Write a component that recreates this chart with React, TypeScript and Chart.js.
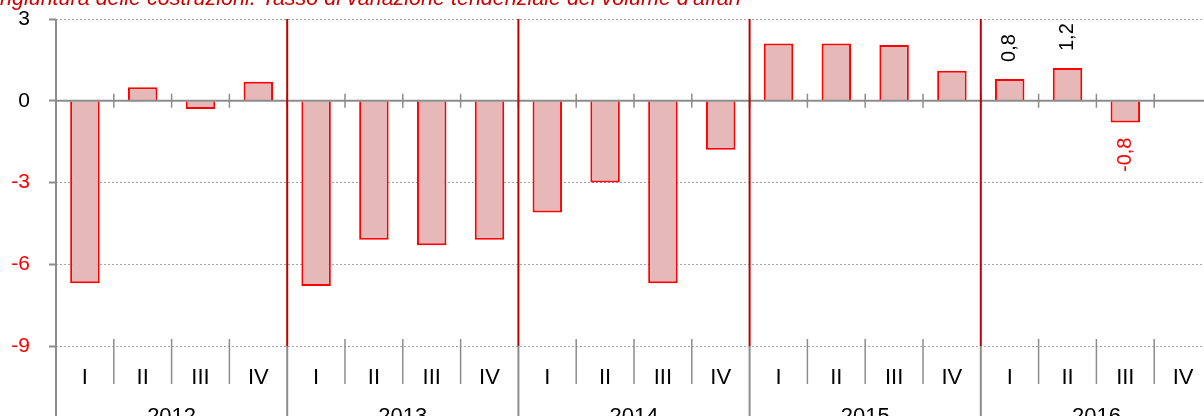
import React, { useEffect, useRef } from 'react';
import { Chart, registerables } from 'chart.js';

Chart.register(...registerables);

// ---- data ----
const quarters = ['I', 'II', 'III', 'IV', 'I', 'II', 'III', 'IV', 'I', 'II', 'III', 'IV', 'I', 'II', 'III', 'IV', 'I', 'II', 'III', 'IV'];
const years = ['2012', '2013', '2014', '2015', '2016'];
const values: (number | null)[] = [
  -6.7, 0.5, -0.3, 0.7,
  -6.8, -5.1, -5.3, -5.1,
  -4.1, -3.0, -6.7, -1.8,
  2.1, 2.1, 2.05, 1.1,
  0.8, 1.2, -0.8, null,
];
const valueLabels: (string | null)[] = [
  null, null, null, null,
  null, null, null, null,
  null, null, null, null,
  null, null, null, null,
  '0,8', '1,2', '-0,8', null,
];
const yMin = -9;
const yMax = 3;
const yStep = 3;
const titleText = "Congiuntura delle costruzioni. Tasso di variazione tendenziale del volume d'affari";
const titleHiddenPrefix = 'Co';
const quartersPerYear = 4;

// ---- style ----
const FONT = 'Arial, "Liberation Sans", sans-serif';
const W = 1230;
const H = 430;
const GRAY = '#8c8c8c';
const RED_LINE = '#C00000';
const Y_FONT = 21;
const X_FONT = 22;

const decorPlugin = {
  id: 'decor',
  afterDatasetsDraw(chart: any) {
    const { ctx, chartArea, scales } = chart;
    const xs = scales.x;
    const ys = scales.y;
    const n = quarters.length;
    const step = xs.getPixelForValue(1) - xs.getPixelForValue(0);
    const boundary = (i: number) => xs.getPixelForValue(i) - step / 2;
    const y0 = ys.getPixelForValue(0);
    const line = (x1: number, y1: number, x2: number, y2: number) => {
      ctx.beginPath();
      ctx.moveTo(x1, y1);
      ctx.lineTo(x2, y2);
      ctx.stroke();
    };
    ctx.save();
    ctx.strokeStyle = GRAY;
    // zero line
    ctx.lineWidth = 2;
    line(chartArea.left, y0, chartArea.right, y0);
    // zero-line ticks
    ctx.lineWidth = 1.5;
    for (let i = 1; i < n; i++) {
      const b = boundary(i);
      line(b, y0 - 7, b, y0 + 7);
    }
    // y axis line (extends down into the category area)
    ctx.lineWidth = 2;
    line(chartArea.left, chartArea.top, chartArea.left, chart.height);
    // category separators
    for (let i = 1; i < n; i++) {
      const b = boundary(i);
      if (i % quartersPerYear === 0) {
        ctx.strokeStyle = GRAY;
        ctx.lineWidth = 2;
        line(b, chartArea.bottom, b, chart.height);
        ctx.strokeStyle = RED_LINE;
        ctx.lineWidth = 2;
        line(b, chartArea.top, b, chartArea.bottom);
      } else {
        ctx.strokeStyle = GRAY;
        ctx.lineWidth = 1.5;
        line(b, chartArea.bottom - 7, b, chartArea.bottom + 38);
      }
    }
    // data labels
    const meta = chart.getDatasetMeta(0);
    ctx.font = `20px ${FONT}`;
    ctx.textBaseline = 'middle';
    valueLabels.forEach((lab, i) => {
      const v = values[i];
      if (!lab || v == null) return;
      const el = meta.data[i];
      if (!el) return;
      const { x, y } = el.getProps(['x', 'y'], true);
      ctx.save();
      if (v >= 0) {
        ctx.translate(x, y - 17);
        ctx.rotate(-Math.PI / 2);
        ctx.textAlign = 'left';
        ctx.fillStyle = '#000000';
      } else {
        ctx.translate(x, y + 15);
        ctx.rotate(-Math.PI / 2);
        ctx.textAlign = 'right';
        ctx.fillStyle = '#FF0000';
      }
      ctx.fillText(lab, 0, 0);
      ctx.restore();
    });
    // title (cropped at top/left as in the reference)
    ctx.font = `italic 21.5px ${FONT}`;
    ctx.fillStyle = '#D00000';
    ctx.textAlign = 'left';
    ctx.textBaseline = 'alphabetic';
    const off = ctx.measureText(titleHiddenPrefix).width;
    ctx.fillText(titleText, -off, 5);
    ctx.restore();
  },
};

export default function App() {
  const ref = useRef<HTMLCanvasElement | null>(null);
  useEffect(() => {
    if (!ref.current) return;
    const chart = new Chart(ref.current, {
      type: 'bar',
      data: {
        labels: quarters,
        datasets: [
          {
            data: values,
            backgroundColor: '#E6B9B8',
            borderColor: '#FF0000',
            borderWidth: 2,
            barPercentage: 0.51,
            categoryPercentage: 1.0,
            xAxisID: 'x',
            yAxisID: 'y',
          },
        ],
      },
      options: {
        responsive: false,
        devicePixelRatio: 1,
        animation: false,
        layout: { padding: { left: 0, right: W - 1212, top: 19, bottom: 0 } },
        plugins: {
          legend: { display: false },
          tooltip: { enabled: false },
          title: { display: false },
        },
        scales: {
          y: {
            min: yMin,
            max: yMax,
            afterFit: (s: any) => {
              s.width = 56;
              s.paddingTop = 0;
              s.paddingBottom = 0;
            },
            ticks: {
              stepSize: yStep,
              padding: 19,
              font: { family: FONT, size: Y_FONT },
              color: (c: any) => (c.tick && c.tick.value < 0 ? '#FF0000' : '#000000'),
              callback: (v: any) => String(v),
            },
            grid: {
              color: (c: any) => (c.tick && c.tick.value === 0 ? 'rgba(0,0,0,0)' : '#a6a6a6'),
              lineWidth: 1,
              drawTicks: true,
              tickLength: 7,
              tickColor: GRAY,
              tickWidth: 2,
            },
            border: { display: false, dash: [2, 2] },
          },
          x: {
            type: 'category',
            position: 'bottom',
            weight: 0,
            offset: true,
            afterFit: (s: any) => {
              s.height = 44;
            },
            grid: { display: false, offset: true },
            border: { display: false },
            ticks: {
              padding: 11,
              autoSkip: false,
              maxRotation: 0,
              color: '#000000',
              font: { family: FONT, size: X_FONT },
            },
          },
          x2: {
            type: 'category',
            labels: years,
            position: 'bottom',
            weight: 1,
            offset: true,
            afterFit: (s: any) => {
              s.height = 40;
            },
            grid: { display: false },
            border: { display: false },
            ticks: {
              padding: 5.5,
              autoSkip: false,
              maxRotation: 0,
              color: '#000000',
              font: { family: FONT, size: X_FONT },
            },
          },
        },
      } as any,
      plugins: [decorPlugin],
    });
    return () => chart.destroy();
  }, []);

  return (
    <div
      style={{
        position: 'absolute',
        left: 0,
        top: 0,
        width: 1204,
        height: 416,
        overflow: 'hidden',
        background: '#ffffff',
      }}
    >
      <canvas ref={ref} width={W} height={H} style={{ display: 'block', width: W, height: H }} />
    </div>
  );
}
